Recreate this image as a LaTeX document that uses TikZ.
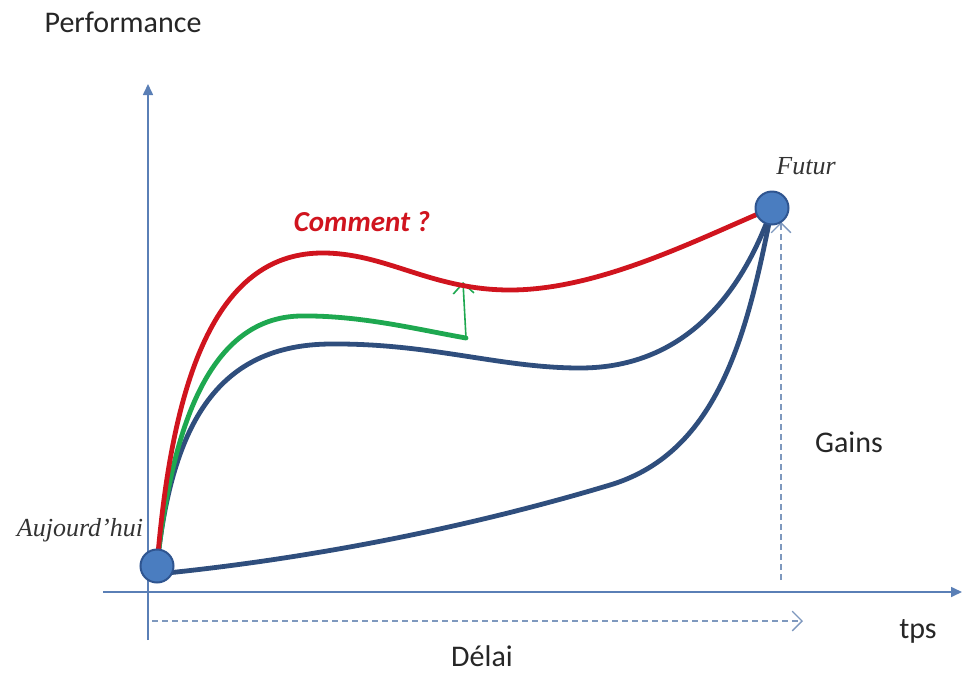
\documentclass[tikz,border=0pt]{standalone}
\usepackage{fontspec}
\setmainfont{Carlito}
\newfontfamily\timesit{Liberation Serif}
\usetikzlibrary{arrows.meta}
\definecolor{axisblue}{HTML}{5A7FB6}
\definecolor{curveblue}{HTML}{2F4E7D}
\definecolor{dotfill}{HTML}{4A7DC0}
\definecolor{dotedge}{HTML}{2F5590}
\definecolor{curvered}{HTML}{D0141E}
\definecolor{curvegreen}{HTML}{1EA850}
\definecolor{dashblue}{HTML}{7E98BE}
\tikzset{
  axis/.style={draw=axisblue, line width=1.6pt, -{Triangle[length=11pt,width=10pt]}},
  dashline/.style={draw=dashblue, line width=1.3pt, dash pattern=on 6pt off 4pt,
    -{Straight Barb[scale=2.4]}},
  curve/.style={line width=4.8pt, line cap=round},
  dot/.style={circle, fill=dotfill, draw=dotedge, line width=2pt, minimum size=33pt, inner sep=0pt},
  lbl/.style={font=\fontsize{30}{34}\selectfont, text=black!85, inner sep=1pt},
  placelbl/.style={font=\timesit\itshape\fontsize{26}{30}\selectfont, text=black!80},
}
\begin{document}
\begin{tikzpicture}[x=1pt,y=-1pt]
\useasboundingbox (0,0) rectangle (967,673);

% axes
\coordinate (yb) at (148,640);
\coordinate (yt) at (148,84);
\coordinate (xl) at (103,592);
\coordinate (xr) at (962,592);
\draw[axis] (yb) -- (yt);
\draw[axis] (xl) -- (xr);

% end points of the paths
\coordinate (A) at (157,566);
\coordinate (F) at (772,208);

% delay and gain markers
\coordinate (d0) at (152,621);
\coordinate (d1) at (803,621);
\coordinate (g0) at (781,580);
\coordinate (g1) at (781,222);
\draw[dashline] (d0) -- (d1);
\draw[dashline] (g0) -- (g1);

% lower path
\draw[curve, curveblue] (157,574) .. controls (300,560) and (460,530) .. (610,485)
  .. controls (720,452) and (748,330) .. (F);
% upper blue path
\draw[curve, curveblue] (A) .. controls (172,420) and (220,345) .. (330,344)
  .. controls (430,343) and (500,368) .. (580,368)
  .. controls (680,368) and (740,300) .. (F);
% green path and its step up
\draw[curve, curvegreen] (A) .. controls (172,425) and (210,318) .. (300,316)
  .. controls (360,315) and (420,330) .. coordinate[pos=1] (gend) (466,338);
\coordinate (gtip) at (463,282);
\draw[curvegreen, line width=1.6pt, -{Straight Barb[scale=2.2]}] (gend) -- (gtip);
% red path
\draw[curve, curvered] (A) .. controls (172,380) and (215,255) .. (320,253)
  .. controls (385,252) and (430,290) .. (510,290)
  .. controls (600,290) and (700,238) .. (F);

% end point markers
\node[dot] (a) at (A) {};
\node[dot] (f) at (F) {};

% labels
\node[lbl] (perf) at (123,22) {Performance};
\node[lbl] (tps) at (918,631) {tps};
\node[lbl] (delai) at (482,656) {Délai};
\node[lbl] (gains) at (849,442) {Gains};
\node[placelbl] (auj) at (80,530) {Aujourd’hui};
\node[placelbl] (fut) at (806,166) {Futur};
\node[font=\bfseries\itshape\fontsize{29}{33}\selectfont, text=curvered] (how) at (362,222) {Comment ?};
\end{tikzpicture}
\end{document}
